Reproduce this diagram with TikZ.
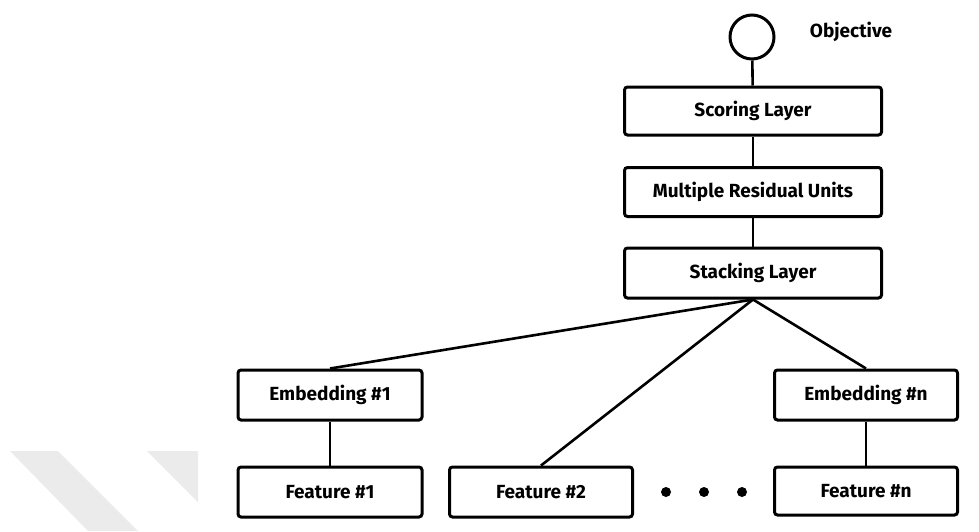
\documentclass[tikz,border=0pt]{standalone}
\usepackage{fontspec}
\setmainfont{Fira Sans}
\begin{document}
\begin{tikzpicture}[x=1pt,y=-1pt,
  layer/.style={draw, line width=3pt, rounded corners=3pt, inner sep=0pt, font=\bfseries\fontsize{19}{22}\selectfont},
  dot/.style={circle, fill, inner sep=0pt, minimum size=10pt},
  every path/.style={line width=2.6pt}]
\useasboundingbox (0,0) rectangle (979,531);
% watermark
\fill[black!8] (10,451) -- (58,451) -- (138,531) -- (88,531) -- cycle;
\fill[black!8] (147,451) -- (198,451) -- (198,502) -- cycle;
\node[circle, draw, line width=3pt, minimum size=44pt] (obj) at (752,37){};
\node[font=\bfseries\fontsize{19}{22}\selectfont] (objlbl) at (851,32){Objective};
\node[layer, minimum width=257pt, minimum height=48pt] (score) at (753,111){Scoring Layer};
\node[layer, minimum width=257pt, minimum height=49pt] (resid) at (753,192){Multiple Residual Units};
\node[layer, minimum width=257pt, minimum height=50pt] (stack) at (753,273){Stacking Layer};
\draw[](obj) -- (score);
\draw[](score) -- (resid);
\draw[](resid) -- (stack);
\node[layer, minimum width=184pt, minimum height=50pt] (emb1) at (330,395){Embedding \#1};
\node[layer, minimum width=183pt, minimum height=50pt] (embn) at (866,395){Embedding \#n};
\node[layer, minimum width=184pt, minimum height=50pt] (feat1) at (330,492){Feature \#1};
\node[layer, minimum width=183pt, minimum height=50pt] (feat2) at (541,492){Feature \#2};
\node[layer, minimum width=183pt, minimum height=48pt] (featn) at (866,491){Feature \#n};
\node[dot] (dot1) at (666,492){};
\node[dot] (dot2) at (704,492){};
\node[dot] (dot3) at (742,492){};
\draw[](stack.south) -- (emb1.north);
\draw[](stack.south) -- (feat2.north);
\draw[](stack.south) -- (embn.north);
\draw[](emb1) -- (feat1);
\draw[](embn) -- (featn);
\end{tikzpicture}
\end{document}
